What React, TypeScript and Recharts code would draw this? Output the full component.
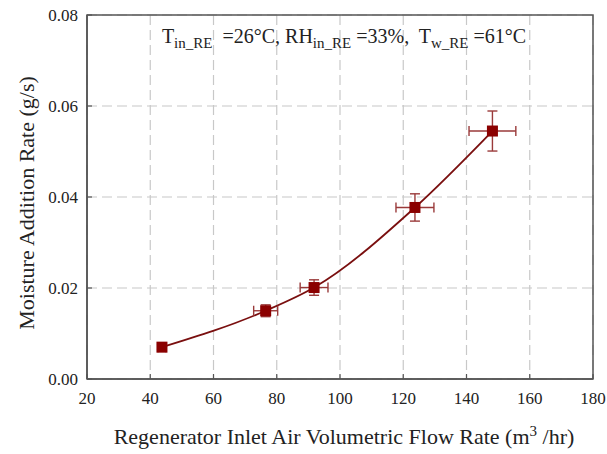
import { ComposedChart, Line, Scatter, ErrorBar, XAxis, YAxis, CartesianGrid, ReferenceArea, Label } from 'recharts'

const flow = [43.7, 76.5, 91.8, 123.7, 148.2]
const rate = [0.007, 0.015, 0.0201, 0.0377, 0.0545]
const flowErr = [1.2, 3.8, 4.4, 6.0, 7.4]
const rateErr = [0.0006, 0.0013, 0.0017, 0.003, 0.0044]

const xTicks = [20, 40, 60, 80, 100, 120, 140, 160, 180]
const yTicks = [0, 0.02, 0.04, 0.06, 0.08]

const FONT = '"Liberation Serif", "Times New Roman", serif'
const DARK_RED = '#8b0000'
const FRAME = '#555'

const points = flow.map((x, i) => ({ x, y: rate[i], ex: flowErr[i], ey: rateErr[i] }))

function XTick({ x, y, payload }: any) {
  return (
    <g>
      <line x1={x} y1={y} x2={x} y2={y - 5} stroke={FRAME} strokeWidth={1.2} />
      <text x={x} y={y + 25} textAnchor="middle" fontFamily={FONT} fontSize={17} fill="#222">
        {payload.value}
      </text>
    </g>
  )
}

function YTick({ x, y, payload }: any) {
  return (
    <g>
      <line x1={x} y1={y} x2={x + 5} y2={y} stroke={FRAME} strokeWidth={1.2} />
      <text x={x - 9} y={y + 6} textAnchor="end" fontFamily={FONT} fontSize={17} fill="#222">
        {payload.value.toFixed(2)}
      </text>
    </g>
  )
}

function Square({ cx, cy }: any) {
  return <rect x={cx - 5.5} y={cy - 5.5} width={11} height={11} fill={DARK_RED} />
}

export default function App() {
  return (
    <div style={{ position: 'absolute', left: 0, top: 0, background: '#fff' }}>
      <ComposedChart width={607} height={454} data={points} margin={{ top: 15, right: 14, bottom: 0, left: 0 }}>
        <CartesianGrid stroke="#c8c8c8" strokeDasharray="10 5" strokeWidth={1.2} />
        <XAxis
          dataKey="x"
          type="number"
          domain={[20, 180]}
          ticks={xTicks}
          height={75}
          tickSize={0}
          tickMargin={0}
          tick={<XTick />}
          axisLine={{ stroke: FRAME, strokeWidth: 1.5 }}
          tickLine={false}
        >
          <Label
            content={({ viewBox }: any) => (
              <text
                x={viewBox.x + viewBox.width / 2 + 4}
                y={viewBox.y + 65}
                textAnchor="middle"
                fontFamily={FONT}
                fontSize={22}
                fill="#222"
              >
                Regenerator Inlet Air Volumetric Flow Rate (m
                <tspan dy={-8} fontSize={15}>3</tspan>
                <tspan dy={8}> /hr)</tspan>
              </text>
            )}
          />
        </XAxis>
        <YAxis
          type="number"
          domain={[0, 0.08]}
          ticks={yTicks}
          width={87}
          tickSize={0}
          tickMargin={0}
          tick={<YTick />}
          axisLine={{ stroke: FRAME, strokeWidth: 1.5 }}
          tickLine={false}
        >
          <Label
            content={({ viewBox }: any) => {
              const cx = 26
              const cy = viewBox.y + viewBox.height / 2 + 6
              return (
                <text
                  x={cx}
                  y={cy}
                  transform={`rotate(-90 ${cx} ${cy})`}
                  textAnchor="middle"
                  dominantBaseline="central"
                  fontFamily={FONT}
                  fontSize={22}
                  fill="#222"
                >
                  Moisture Addition Rate (g/s)
                </text>
              )
            }}
          />
        </YAxis>
        <ReferenceArea x1={20} x2={180} y1={0} y2={0.08} fill="none" stroke={FRAME} strokeWidth={1.5} ifOverflow="visible">
          <Label
            content={({ viewBox }: any) => (
              <text
                x={viewBox.x + viewBox.width / 2 + 4}
                y={viewBox.y + 28}
                textAnchor="middle"
                fontFamily={FONT}
                fontSize={20}
                fill="#222"
                style={{ whiteSpace: 'pre' }}
              >
                T<tspan dy={5} fontSize={15}>in_RE</tspan>
                <tspan dy={-5}>{'  =26°C, RH'}</tspan>
                <tspan dy={5} fontSize={15}>in_RE</tspan>
                <tspan dy={-5}>{' =33%,  T'}</tspan>
                <tspan dy={5} fontSize={15}>w_RE</tspan>
                <tspan dy={-5}>{' =61°C'}</tspan>
              </text>
            )}
          />
        </ReferenceArea>
        <Line
          dataKey="y"
          type="monotone"
          stroke="#7a0f0f"
          strokeWidth={1.8}
          dot={false}
          activeDot={false}
          isAnimationActive={false}
        />
        <Scatter dataKey="y" shape={<Square />} isAnimationActive={false}>
          <ErrorBar dataKey="ex" direction="x" width={5} stroke="#9a3a3a" strokeWidth={1.4} />
          <ErrorBar dataKey="ey" direction="y" width={5} stroke="#9a3a3a" strokeWidth={1.4} />
        </Scatter>
      </ComposedChart>
    </div>
  )
}
